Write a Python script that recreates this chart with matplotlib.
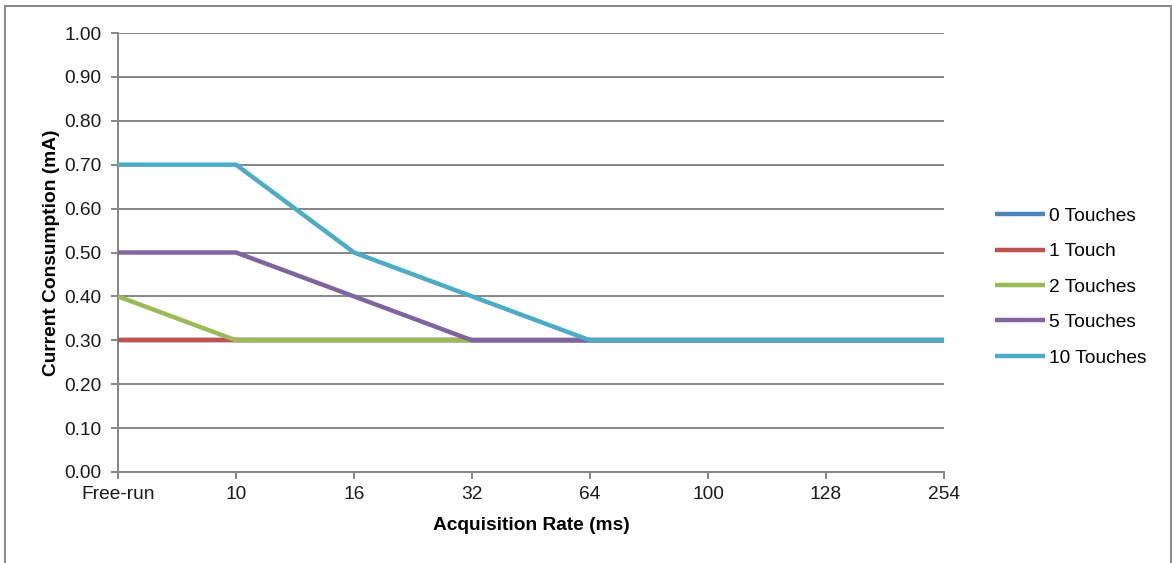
import matplotlib
matplotlib.use('Agg')  # no display
import matplotlib.pyplot as plt
from matplotlib.patches import Rectangle

plt.rcParams['font.family'] = ['Liberation Sans', 'DejaVu Sans']

# data
rates = ["Free-run", "10", "16", "32", "64", "100", "128", "254"]
touches_0 = [0.30, 0.30, 0.30, 0.30, 0.30, 0.30, 0.30, 0.30]
touches_1 = [0.30, 0.30, 0.30, 0.30, 0.30, 0.30, 0.30, 0.30]
touches_2 = [0.40, 0.30, 0.30, 0.30, 0.30, 0.30, 0.30, 0.30]
touches_5 = [0.50, 0.50, 0.40, 0.30, 0.30, 0.30, 0.30, 0.30]
touches_10 = [0.70, 0.70, 0.50, 0.40, 0.30, 0.30, 0.30, 0.30]

series = [
    ("0 Touches", touches_0, "#4F81BD"),
    ("1 Touch", touches_1, "#C0504D"),
    ("2 Touches", touches_2, "#9BBB59"),
    ("5 Touches", touches_5, "#8064A2"),
    ("10 Touches", touches_10, "#4BACC6"),
]

W, H = 1172, 563
FS = 13.8
fig = plt.figure(figsize=(W / 100, H / 100), dpi=100)

# outer chart frame like the Excel chart area
fig.patches.append(Rectangle((5 / W, -0.01), (1171 - 5) / W, 1 - 6 / H + 0.01,
                             transform=fig.transFigure, fill=False,
                             edgecolor="#8C8C8C", linewidth=1.5))

ax = fig.add_axes([118 / W, (H - 472) / H, (944 - 118) / W, (472 - 33) / H])

x = list(range(len(rates)))
for name, vals, col in series:
    ax.plot(x, vals, color=col, linewidth=3.2, label=name,
            solid_capstyle="butt", solid_joinstyle="miter", zorder=3)

ax.set_xlim(0, len(rates) - 1)
ax.set_ylim(0, 1.0)
ax.set_yticks([i / 10 for i in range(11)])
ax.set_yticklabels([f"{i / 10:.2f}" for i in range(11)])
ax.set_xticks(x)
ax.set_xticklabels(rates)

grid_col = "#868686"
ax.yaxis.grid(True, color=grid_col, linewidth=1.4)
ax.set_axisbelow(True)
for s in ["top", "right"]:
    ax.spines[s].set_visible(False)
for s in ["left", "bottom"]:
    ax.spines[s].set_color(grid_col)
    ax.spines[s].set_linewidth(1.4)
ax.tick_params(axis="both", direction="out", length=5, width=1.4, color=grid_col,
               labelsize=FS, labelcolor="#1a1a1a")
ax.tick_params(axis="y", pad=7)
ax.tick_params(axis="x", pad=5)

ax.set_xlabel("Acquisition Rate (ms)", fontsize=FS, fontweight="bold", labelpad=10)
ax.set_ylabel("Current Consumption (mA)", fontsize=FS, fontweight="bold", labelpad=3)

ax.legend(loc="center left", bbox_to_anchor=((995 - 118) / 826, (472 - 287) / 439),
          frameon=False, fontsize=FS, handlelength=2.6, handletextpad=0.2,
          labelspacing=0.94, borderpad=0, borderaxespad=0)

plt.savefig("out.png", dpi=100)
plt.close()
